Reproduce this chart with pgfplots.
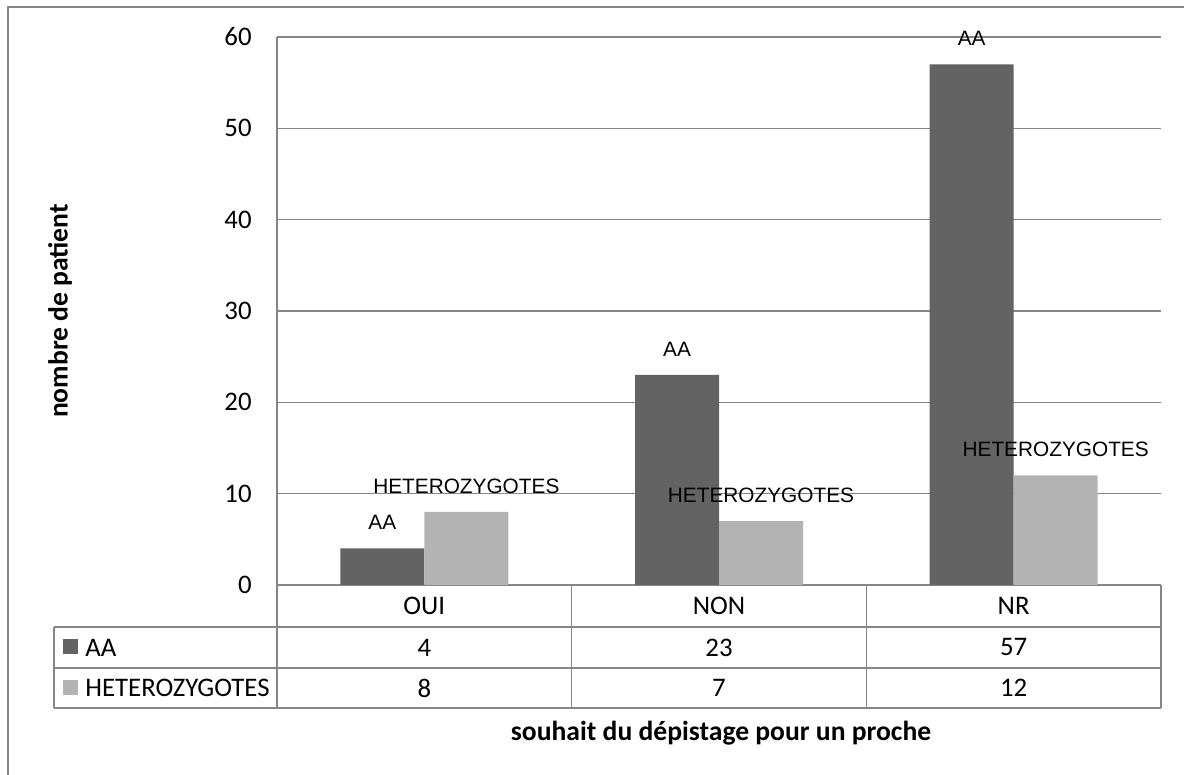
\documentclass[border=0pt]{standalone}
\usepackage{fontspec}
\setmainfont{Carlito}
\newfontfamily\arialfont{Liberation Sans}
\usepackage{pgfplots}
\pgfplotsset{compat=1.18}
\definecolor{aacol}{RGB}{99,99,99}
\definecolor{hetcol}{RGB}{179,179,179}
\definecolor{linecol}{RGB}{134,134,134}
\begin{document}
\begin{tikzpicture}[x=1pt,y=1pt]
\useasboundingbox (0,0) rectangle (592,387.5);
\draw[linecol, line width=0.75pt] (4,0) -- (4,384) -- (592,384);
\begin{axis}[
  at={(138.5pt,95pt)}, anchor=south west,
  scale only axis, width=442pt, height=274pt,
  xmin=0, xmax=3, ymin=0, ymax=60,
  ytick={0,10,...,60},
  xtick={0.5,1.5,2.5}, xticklabels={OUI,NON,NR},
  ybar=0pt, bar width=42pt,
  axis x line*=bottom, axis y line*=left,
  axis line style={linecol, line width=0.75pt, -},
  ymajorgrids, grid style={linecol, line width=0.75pt},
  major tick length=0pt,
  tick style={draw=none},
  /pgf/number format/assume math mode=true,
  tick label style={font=\fontsize{13.4}{15}\selectfont},
  yticklabel style={anchor=east, inner sep=0pt, xshift=-12.5pt},
  xticklabel style={anchor=center, inner sep=0pt, yshift=-10.5pt},
  clip=false,
]
\addplot[fill=aacol, draw=none, nodes near coords={AA},
  every node near coord/.append style={font=\arialfont\fontsize{10.4}{12}\selectfont, anchor=center, yshift=13pt, text=black}]
  coordinates {(0.5,4) (1.5,23) (2.5,57)};
\addplot[fill=hetcol, draw=none, nodes near coords={HETEROZYGOTES},
  every node near coord/.append style={font=\arialfont\fontsize{10.4}{12}\selectfont, anchor=center, yshift=13pt, text=black}]
  coordinates {(0.5,8) (1.5,7) (2.5,12)};
\end{axis}
% data table
\begin{scope}[linecol, line width=0.75pt]
\draw (138.5,95) -- (138.5,33.5);
\draw (285.83,95) -- (285.83,33.5);
\draw (433.17,95) -- (433.17,33.5);
\draw (580.5,95) -- (580.5,33.5);
\draw (27,74) -- (580.5,74);
\draw (27,53.5) -- (580.5,53.5);
\draw (27,33.5) -- (580.5,33.5);
\draw (27,74) -- (27,33.5);
\end{scope}
\fill[aacol] (31.5,60.5) rectangle (39,68);
\fill[hetcol] (31.5,40) rectangle (39,47.5);
\begin{scope}[every node/.style={font=\fontsize{13.4}{15}\selectfont, inner sep=0pt}]
\node[anchor=west] at (42.5,63.75) {AA};
\node[anchor=west] at (42.5,43.5) {HETEROZYGOTES};
\node at (212.17,63.75) {4};
\node at (359.5,63.75) {23};
\node at (506.83,63.75) {57};
\node at (212.17,43.5) {8};
\node at (359.5,43.5) {7};
\node at (506.83,43.5) {12};
\node[font=\bfseries\fontsize{13.8}{16}\selectfont] at (360.5,21) {souhait du dépistage pour un proche};
\node[font=\bfseries\fontsize{13.8}{16}\selectfont, rotate=90] at (30,232) {nombre de patient};
\end{scope}
\end{tikzpicture}
\end{document}
